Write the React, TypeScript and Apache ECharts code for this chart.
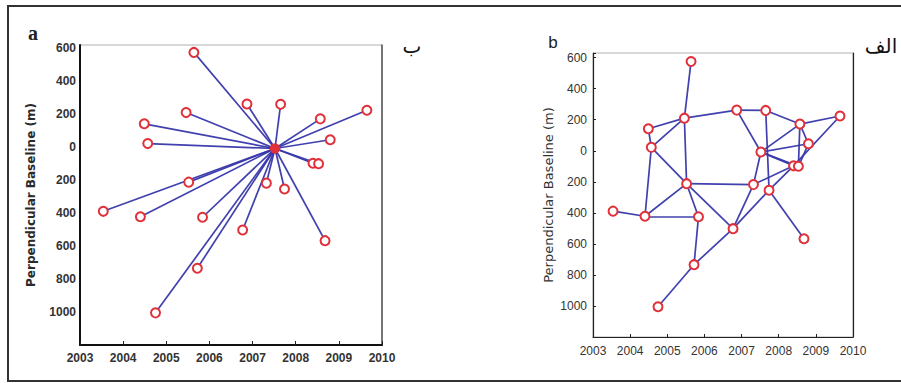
import React, { useEffect, useRef } from "react";
import * as echarts from "echarts";

// Acquisition year and perpendicular baseline (m) of each image; last one is the master
const acquisitionYears = [
  2005.64, 2006.87, 2007.65, 2005.46, 2004.49, 2004.57, 2008.57, 2009.65, 2008.8,
  2008.4, 2008.53, 2005.52, 2007.32, 2007.74, 2003.54, 2004.4, 2005.84, 2006.77,
  2008.68, 2005.72, 2004.75, 2007.52,
];
const perpBaselines = [
  575, 262, 260, 210, 142, 22, 172, 224, 45, -97, -100, -212, -218, -254, -389,
  -422, -425, -502, -567, -734, -1005, -8,
];
const masterIndex = 21;

// Interferometric pairs of the small-baseline network (panel b)
const networkPairs: [number, number][] = [
  [0, 3], [3, 11], [3, 4], [3, 5], [4, 5], [5, 11], [5, 15], [3, 1], [1, 2],
  [1, 21], [2, 13], [2, 6], [6, 7], [7, 9], [6, 8], [6, 21], [8, 21], [21, 9],
  [21, 10], [8, 10], [6, 10], [21, 12], [9, 13], [9, 12], [11, 12], [12, 17],
  [13, 18], [19, 17], [17, 13], [11, 17], [11, 15], [15, 16], [14, 15], [11, 16],
  [16, 19], [19, 20], [9, 10],
];

const yearTicks = [2003, 2004, 2005, 2006, 2007, 2008, 2009, 2010];
const baselineTicks = [600, 400, 200, 0, -200, -400, -600, -800, -1000];

const axisTitle = "Perpendicular Baseline (m)";

export default function App() {
  const ref = useRef<HTMLDivElement>(null);

  useEffect(() => {
    if (!ref.current) return;
    const chart = echarts.init(ref.current, null, { renderer: "svg" });

    const nodesLeft = acquisitionYears.map((yr, i) => ({
      value: [yr, perpBaselines[i]],
      symbol: i === masterIndex ? "circle" : "emptyCircle",
    }));
    const nodesRight = acquisitionYears.map((yr, i) => ({
      value: [yr, perpBaselines[i]],
    }));
    const starLinks = acquisitionYears
      .map((_, i) => i)
      .filter((i) => i !== masterIndex)
      .map((i) => ({ source: i, target: masterIndex }));
    const netLinks = networkPairs.map(([s, t]) => ({ source: s, target: t }));

    const yFmt = (v: number) =>
      baselineTicks.includes(Math.round(v)) ? String(Math.abs(Math.round(v))) : "";
    const xFmt = (v: number) =>
      yearTicks.includes(Math.round(v)) ? String(Math.round(v)) : "";

    const lineColor = "#3636aa";
    const markerColor = "#e0303a";

    chart.setOption({
      animation: false,
      backgroundColor: "#ffffff",
      grid: [
        { left: 80, top: 45, width: 302, height: 300, show: true, borderColor: "#b0b0b0", borderWidth: 1, outerBoundsMode: "none" },
        { left: 593, top: 53, width: 260, height: 284, show: true, borderColor: "#b0b0b0", borderWidth: 1, outerBoundsMode: "none" },
      ],
      xAxis: [
        {
          gridIndex: 0, type: "value", min: 2003, max: 2010, interval: 1,
          axisLine: { onZero: false, lineStyle: { color: "#111", width: 2 } },
          axisTick: { inside: true, length: 4, lineStyle: { color: "#222" } },
          axisLabel: { formatter: xFmt, fontSize: 12, fontWeight: "bold", color: "#333", margin: 7, fontFamily: "Liberation Sans" },
          splitLine: { show: false },
        },
        {
          gridIndex: 1, type: "value", min: 2003, max: 2010, interval: 1,
          axisLine: { onZero: false, lineStyle: { color: "#222", width: 1.2 } },
          axisTick: { inside: true, length: 3, lineStyle: { color: "#222" } },
          axisLabel: { formatter: xFmt, fontSize: 12, color: "#333", margin: 8, fontFamily: "Liberation Sans" },
          splitLine: { show: false },
        },
      ],
      yAxis: [
        {
          gridIndex: 0, type: "value", min: -1200, max: 620, interval: 200,
          axisLine: { show: true, onZero: false, lineStyle: { color: "#111", width: 2 } },
          axisTick: { show: false },
          axisLabel: { formatter: yFmt, fontSize: 12, fontWeight: "bold", color: "#333", margin: 4, fontFamily: "Liberation Sans" },
          splitLine: { show: false },
        },
        {
          gridIndex: 0, type: "value", position: "right", min: -1200, max: 620, interval: 200,
          axisLine: { show: true, onZero: false, lineStyle: { color: "#555", width: 1.5 } },
          axisTick: { show: false }, axisLabel: { show: false }, splitLine: { show: false },
        },
        {
          gridIndex: 1, type: "value", min: -1200, max: 630, interval: 200,
          axisLine: { show: true, onZero: false, lineStyle: { color: "#222", width: 1.2 } },
          axisTick: { show: true, inside: true, length: 3, lineStyle: { color: "#222" } },
          axisLabel: { formatter: yFmt, fontSize: 12, color: "#333", margin: 6, fontFamily: "Liberation Sans" },
          splitLine: { show: false },
        },
        {
          gridIndex: 1, type: "value", position: "right", min: -1200, max: 630, interval: 200,
          axisLine: { show: true, onZero: false, lineStyle: { color: "#222", width: 1.2 } },
          axisTick: { show: false }, axisLabel: { show: false }, splitLine: { show: false },
        },
      ],
      series: [
        {
          type: "graph", coordinateSystem: "cartesian2d", xAxisIndex: 0, yAxisIndex: 0,
          data: nodesLeft, links: starLinks,
          symbol: "emptyCircle", symbolSize: 9,
          itemStyle: { color: markerColor, borderColor: markerColor, borderWidth: 1.5 },
          lineStyle: { color: lineColor, width: 1.7, opacity: 0.95, curveness: 0 },
          label: { show: false }, emphasis: { disabled: true },
        },
        {
          type: "graph", coordinateSystem: "cartesian2d", xAxisIndex: 1, yAxisIndex: 2,
          data: nodesRight, links: netLinks,
          symbol: "emptyCircle", symbolSize: 9,
          itemStyle: { color: markerColor, borderColor: markerColor, borderWidth: 1.5 },
          lineStyle: { color: lineColor, width: 1.7, opacity: 0.95, curveness: 0 },
          label: { show: false }, emphasis: { disabled: true },
        },
      ],
      graphic: [
        {
          type: "polyline", silent: true,
          shape: { points: [[901, 6], [8, 6], [8, 381], [901, 381]] },
          style: { stroke: "#333", lineWidth: 2, fill: null },
        },
        {
          type: "text", x: 33, y: 33,
          style: { text: "a", font: "bold 20px 'Liberation Serif'", fill: "#222", align: "center", verticalAlign: "middle" },
        },
        {
          type: "text", x: 553, y: 42,
          style: { text: "b", font: "17px 'Liberation Sans'", fill: "#222", align: "center", verticalAlign: "middle" },
        },
        {
          type: "text", x: 412, y: 46,
          style: { text: "ب", font: "20px 'DejaVu Sans'", fill: "#111", align: "center", verticalAlign: "middle" },
        },
        {
          type: "text", x: 881, y: 46,
          style: { text: "الف", font: "20px 'DejaVu Sans'", fill: "#111", align: "center", verticalAlign: "middle" },
        },
        {
          type: "text", x: 31, y: 195, rotation: Math.PI / 2,
          style: { text: axisTitle, font: "bold 12px 'DejaVu Sans'", fill: "#2a2a2a", align: "center", verticalAlign: "middle" },
        },
        {
          type: "text", x: 548, y: 195, rotation: Math.PI / 2,
          style: { text: axisTitle, font: "13px 'DejaVu Sans'", fill: "#333", align: "center", verticalAlign: "middle" },
        },
      ],
    });

    return () => chart.dispose();
  }, []);

  return (
    <div
      ref={ref}
      style={{ position: "fixed", left: 0, top: 0, width: 901, height: 383, background: "#fff" }}
    />
  );
}
